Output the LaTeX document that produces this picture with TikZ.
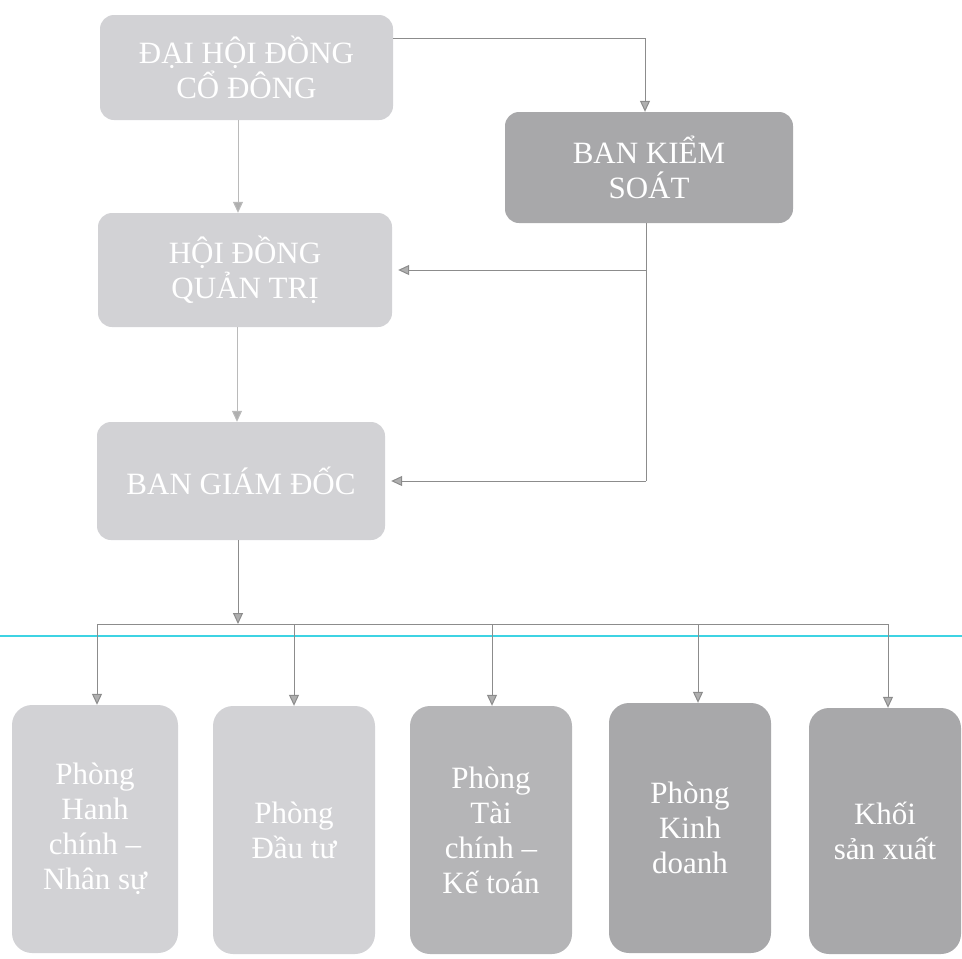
\documentclass[tikz,border=0pt]{standalone}
\usepackage{fontspec}
\setmainfont{Liberation Serif}
\usetikzlibrary{arrows.meta,calc}
\definecolor{boxlight}{HTML}{D2D2D5}
\definecolor{boxmid}{HTML}{B5B5B7}
\definecolor{boxdark}{HTML}{A8A8AA}
\definecolor{linegray}{HTML}{8C8C8C}
\definecolor{guide}{HTML}{3ED3E3}
\begin{document}
\begin{tikzpicture}[x=1pt,y=-1pt,
  box/.style={rectangle, rounded corners=14pt, draw=none, text=white, align=center,
    font=\fontsize{31}{35}\selectfont, inner sep=0pt},
  dept/.style={box, rounded corners=20pt, minimum height=248pt},
  conn/.style={draw=linegray, line width=1pt},
  arr/.style={conn, -{Triangle[length=11pt,width=10pt,fill=linegray!70]}}
]
\useasboundingbox (0,0) rectangle (962,959);
% top level
\node[box, fill=boxlight, minimum width=293pt, minimum height=105pt] (dh) at (246.5,67.5) {ĐẠI HỘI ĐỒNG\\CỔ ĐÔNG};
\node[box, fill=boxdark, minimum width=288pt, minimum height=111pt] (bks) at (649,167.5) {BAN KIỂM\\SOÁT};
\node[box, fill=boxlight, minimum width=294pt, minimum height=114pt] (hd) at (245,270) {HỘI ĐỒNG\\QUẢN TRỊ};
\node[box, fill=boxlight, minimum width=288pt, minimum height=118pt] (bgd) at (241,481) {BAN GIÁM ĐỐC};
% departments
\node[dept, fill=boxlight, minimum width=166pt] (p1) at (95,829) {Phòng\\Hanh\\chính –\\Nhân sự};
\node[dept, fill=boxlight, minimum width=162pt] (p2) at (294,830) {Phòng\\Đầu tư};
\node[dept, fill=boxmid, minimum width=162pt] (p3) at (491,830) {Phòng\\Tài\\chính –\\Kế toán};
\node[dept, fill=boxdark, minimum width=162pt, minimum height=250pt] (p4) at (690,828) {Phòng\\Kinh\\doanh};
\node[dept, fill=boxdark, minimum width=152pt, minimum height=246pt] (p5) at (885,831) {Khối\\sản xuất};
% guide line
\draw[guide, line width=1.6pt] (0,636) -- (962,636);
% connectors
\coordinate (t1) at (645,38);
\draw[arr] ([yshift=29.5pt]dh.east) -- (t1) -- (t1 |- bks.north);
\draw[arr, draw=linegray!60] (dh.south -| 238,0) -- (hd.north -| 238,0);
\draw[arr, draw=linegray!60] (hd.south -| 237,0) -- (bgd.north -| 237,0);
\coordinate (k1) at (646,270);
\coordinate (k2) at (646,481);
\draw[conn] (bks.south -| k1) -- (k2);
\draw[arr] (k1) -- ([xshift=6pt]hd.east);
\draw[arr] (k2) -- ([xshift=6pt]bgd.east);
\coordinate (bus) at (238,624);
\draw[arr] (bgd.south -| bus) -- (bus);
\coordinate (a1) at (97,624);
\coordinate (a2) at (294,624);
\coordinate (a3) at (492,624);
\coordinate (a4) at (698,624);
\coordinate (a5) at (888,624);
\draw[conn] (a1) -- (a5);
\draw[arr] (a1) -- (a1 |- p1.north);
\draw[arr] (a2) -- (a2 |- p2.north);
\draw[arr] (a3) -- (a3 |- p3.north);
\draw[arr] (a4) -- (a4 |- p4.north);
\draw[arr] (a5) -- (a5 |- p5.north);
\end{tikzpicture}
\end{document}
